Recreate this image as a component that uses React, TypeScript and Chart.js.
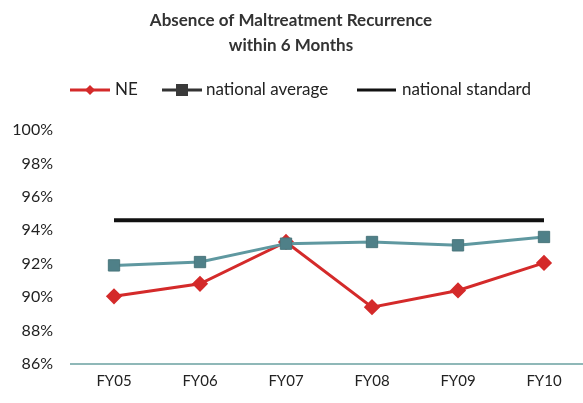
import React, { useEffect, useRef } from "react";
import { Chart, registerables } from "chart.js";

Chart.register(...registerables);

const categories = ["FY05", "FY06", "FY07", "FY08", "FY09", "FY10"];
const neValues = [90.05, 90.8, 93.3, 89.4, 90.4, 92.05];
const nationalAverage = [91.9, 92.1, 93.2, 93.3, 93.1, 93.6];
const nationalStandard = [94.6, 94.6, 94.6, 94.6, 94.6, 94.6];
const titleLines = ["Absence of Maltreatment Recurrence", "within 6 Months"];
const yMin = 86;
const yMax = 100;
const yStep = 2;

const FONT = "Lato, 'Open Sans', sans-serif";
const RED = "#d42a2a";
const TEAL = "#5f98a0";
const TEAL_MARK = "#4f8088";

const customLegendTitle = {
  id: "customLegendTitle",
  afterDraw(chart: any) {
    const ctx = chart.ctx;
    ctx.save();
    // title
    ctx.fillStyle = "#333333";
    ctx.font = `bold 17px ${FONT}`;
    ctx.textAlign = "center";
    ctx.textBaseline = "middle";
    ctx.fillText(titleLines[0], 291, 21);
    ctx.fillText(titleLines[1], 291, 46);

    // legend
    const y = 90;
    ctx.font = `17px ${FONT}`;
    ctx.textAlign = "left";
    ctx.fillStyle = "#222222";
    // NE
    ctx.strokeStyle = RED;
    ctx.lineWidth = 3;
    ctx.beginPath();
    ctx.moveTo(70, y);
    ctx.lineTo(110, y);
    ctx.stroke();
    ctx.fillStyle = RED;
    ctx.beginPath();
    ctx.moveTo(90, y - 5);
    ctx.lineTo(95, y);
    ctx.lineTo(90, y + 5);
    ctx.lineTo(85, y);
    ctx.closePath();
    ctx.fill();
    ctx.fillStyle = "#222222";
    ctx.fillText("NE", 115, y);
    // national average
    ctx.strokeStyle = "#333333";
    ctx.beginPath();
    ctx.moveTo(162, y);
    ctx.lineTo(202, y);
    ctx.stroke();
    ctx.fillStyle = "#3a3a3a";
    ctx.fillRect(176, y - 6, 12, 12);
    ctx.fillStyle = "#222222";
    ctx.fillText("national average", 206, y);
    // national standard
    ctx.strokeStyle = "#111111";
    ctx.lineWidth = 3;
    ctx.beginPath();
    ctx.moveTo(357, y);
    ctx.lineTo(396, y);
    ctx.stroke();
    ctx.fillText("national standard", 402, y);
    ctx.restore();
  },
};

export default function App() {
  const canvasRef = useRef<HTMLCanvasElement | null>(null);

  useEffect(() => {
    if (!canvasRef.current) return;
    const chart = new Chart(canvasRef.current, {
      type: "line",
      data: {
        labels: categories,
        datasets: [
          {
            label: "national standard",
            data: nationalStandard,
            borderColor: "#111111",
            borderWidth: 4,
            pointRadius: 0,
            fill: false,
          },
          {
            label: "national average",
            data: nationalAverage,
            borderColor: TEAL,
            borderWidth: 3,
            pointStyle: "rect",
            pointRadius: 8,
            pointBackgroundColor: TEAL_MARK,
            pointBorderColor: "#4a767c",
            pointBorderWidth: 1,
            fill: false,
          },
          {
            label: "NE",
            data: neValues,
            borderColor: RED,
            borderWidth: 3,
            pointStyle: "rectRot",
            pointRadius: 6,
            pointBackgroundColor: RED,
            pointBorderColor: RED,
            fill: false,
          },
        ],
      },
      options: {
        animation: false,
        responsive: false,
        maintainAspectRatio: false,
        layout: { padding: { top: 130, bottom: 5, left: 0, right: 0 } },
        plugins: {
          legend: { display: false },
          title: { display: false },
          tooltip: { enabled: false },
        },
        scales: {
          x: {
            offset: true,
            grid: { display: false, drawTicks: false },
            border: { display: true, color: "#8fb8b8", width: 2 },
            ticks: {
              color: "#222222",
              font: { family: FONT, size: 15 },
              padding: 8,
            },
          },
          y: {
            min: yMin,
            max: yMax,
            grid: { display: false, drawTicks: false },
            border: { display: false },
            afterFit: (scale: any) => {
              scale.width = 71;
            },
            ticks: {
              stepSize: yStep,
              color: "#222222",
              font: { family: FONT, size: 16 },
              padding: 18,
              callback: (v: any) => `${v}%`,
            },
          },
        },
      },
      plugins: [customLegendTitle],
    });
    return () => chart.destroy();
  }, []);

  return (
    <div
      style={{
        position: "fixed",
        left: 0,
        top: 0,
        width: 583,
        height: 403,
        overflow: "hidden",
        background: "#ffffff",
      }}
    >
      <canvas
        ref={canvasRef}
        width={596}
        height={403}
        style={{ display: "block", width: 596, height: 403 }}
      />
    </div>
  );
}
